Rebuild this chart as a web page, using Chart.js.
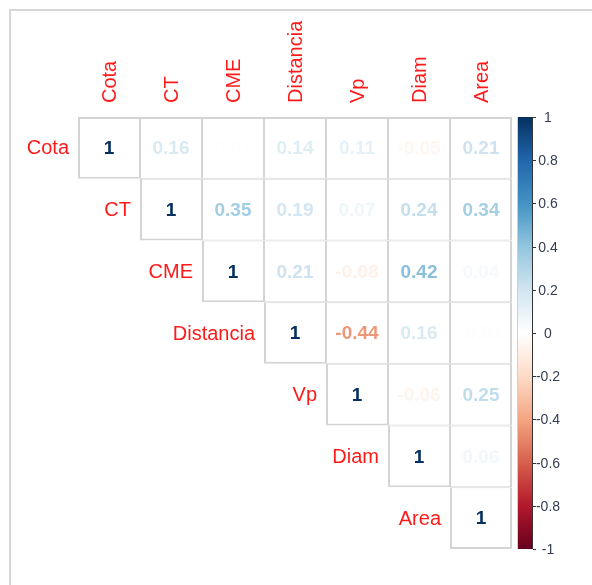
<!DOCTYPE html>
<html>
<head>
<meta charset="utf-8">
<script src="https://cdn.jsdelivr.net/npm/chart.js@4/dist/chart.umd.min.js"></script>
<style>
  html, body { margin: 0; padding: 0; background: #ffffff; }
  #wrap { position: relative; width: 592px; height: 585px; }
</style>
</head>
<body>
<div id="wrap"><canvas id="corr" width="592" height="585"></canvas></div>
<script>
// Variables of the correlation matrix (upper triangle shown)
const variables = ['Cota', 'CT', 'CME', 'Distancia', 'Vp', 'Diam', 'Area'];

// One row of correlation coefficients per variable (null below the diagonal)
const corrCota      = [1, 0.16, 0.01, 0.14, 0.11, -0.05, 0.21];
const corrCT        = [null, 1, 0.35, 0.19, 0.07, 0.24, 0.34];
const corrCME       = [null, null, 1, 0.21, -0.08, 0.42, 0.04];
const corrDistancia = [null, null, null, 1, -0.44, 0.16, -0.01];
const corrVp        = [null, null, null, null, 1, -0.06, 0.25];
const corrDiam      = [null, null, null, null, null, 1, 0.06];
const corrArea      = [null, null, null, null, null, null, 1];

// Colour-key ticks
const colorbarTicks = [1, 0.8, 0.6, 0.4, 0.2, 0, -0.2, -0.4, -0.6, -0.8, -1];

// Diverging red-blue palette stops, from -1 to 1
const paletteStops = ['#67001F', '#B2182B', '#D6604D', '#F4A582', '#FDDBC7', '#FFFFFF',
                      '#D1E5F0', '#92C5DE', '#4393C3', '#2166AC', '#053061'];

const rows = [corrCota, corrCT, corrCME, corrDistancia, corrVp, corrDiam, corrArea];
const n = variables.length;

function hexToRgb(h) {
  const v = parseInt(h.slice(1), 16);
  return [(v >> 16) & 255, (v >> 8) & 255, v & 255];
}
function colorFor(v) {
  const t = (Math.max(-1, Math.min(1, v)) + 1) / 2 * (paletteStops.length - 1);
  const i = Math.min(Math.floor(t), paletteStops.length - 2);
  const f = t - i;
  const a = hexToRgb(paletteStops[i]), b = hexToRgb(paletteStops[i + 1]);
  const c = a.map((x, k) => Math.round(x + (b[k] - x) * f));
  return `rgb(${c[0]},${c[1]},${c[2]})`;
}
function fmt(v) { return v === 1 ? '1' : v.toFixed(2); }

// Each row of the triangle is a dataset of floating bars spanning [row, row+1]
const datasets = rows.map((row, i) => ({
  label: variables[i],
  data: row.map(v => (v === null ? null : [i, i + 1])),
  corr: row,
  backgroundColor: '#ffffff',
  borderColor: '#d4d4d4',
  borderSkipped: false,
  inflateAmount: 0,
  grouped: false,
  barPercentage: 1,
  categoryPercentage: 1,
  borderWidth: ctx => {
    const j = ctx.dataIndex;
    return {
      left: j === i ? 2 : 1,
      top: i === 0 ? 2 : 1,
      right: j === n - 1 ? 2 : 1,
      bottom: j === i ? 2 : 1
    };
  }
}));

const FONT = '"Liberation Sans", Arial, sans-serif';

const corrDecor = {
  id: 'corrDecor',
  beforeDraw(chart) {
    const ctx = chart.ctx;
    ctx.save();
    ctx.fillStyle = '#ffffff';
    ctx.fillRect(0, 0, chart.width, chart.height);
    // outer frame (top and left edges)
    ctx.fillStyle = '#d6d6d6';
    ctx.fillRect(9, 9, chart.width - 9, 2);
    ctx.fillRect(9, 9, 2, chart.height - 9);
    ctx.restore();
  },
  afterDatasetsDraw(chart) {
    const ctx = chart.ctx;
    const xs = chart.scales.x, ys = chart.scales.y, cb = chart.scales.cb;
    const area = chart.chartArea;
    ctx.save();

    // coefficient labels inside cells
    ctx.font = 'bold 19px ' + FONT;
    ctx.textAlign = 'center';
    ctx.textBaseline = 'middle';
    chart.data.datasets.forEach((ds, i) => {
      const meta = chart.getDatasetMeta(i);
      meta.data.forEach((el, j) => {
        const v = ds.corr[j];
        if (v === null) return;
        const p = el.getCenterPoint();
        ctx.fillStyle = colorFor(v);
        ctx.fillText(fmt(v), p.x, p.y + 1);
      });
    });

    // variable names: rotated along the top, beside the diagonal on the left
    ctx.font = '20px ' + FONT;
    ctx.fillStyle = '#ff1a1a';
    variables.forEach((name, k) => {
      const cx = xs.getPixelForValue(k);
      ctx.save();
      ctx.translate(cx, area.top - 14);
      ctx.rotate(-Math.PI / 2);
      ctx.textAlign = 'left';
      ctx.textBaseline = 'middle';
      ctx.fillText(name, 0, 1);
      ctx.restore();

      const cy = (ys.getPixelForValue(k) + ys.getPixelForValue(k + 1)) / 2;
      const half = xs.getPixelForValue(1) - xs.getPixelForValue(0);
      ctx.textAlign = 'right';
      ctx.textBaseline = 'middle';
      ctx.fillText(name, cx - half / 2 - 9, cy + 1);
    });

    // colour key
    const x0 = area.right + 6, w = 15;
    const yTop = cb.getPixelForValue(1), yBot = cb.getPixelForValue(-1);
    const grad = ctx.createLinearGradient(0, yBot, 0, yTop);
    paletteStops.forEach((c, k) => grad.addColorStop(k / (paletteStops.length - 1), c));
    ctx.fillStyle = grad;
    ctx.fillRect(x0, yTop, w, yBot - yTop);
    ctx.strokeStyle = '#d0d0d0';
    ctx.lineWidth = 1;
    ctx.beginPath();
    ctx.moveTo(x0 - 0.5, yTop); ctx.lineTo(x0 - 0.5, yBot);
    ctx.stroke();
    ctx.strokeStyle = '#333333';
    ctx.beginPath();
    ctx.moveTo(x0 + w - 0.5, yTop); ctx.lineTo(x0 + w - 0.5, yBot);
    ctx.stroke();

    ctx.font = '14px ' + FONT;
    ctx.textAlign = 'center';
    ctx.textBaseline = 'middle';
    colorbarTicks.forEach(t => {
      const y = Math.round(cb.getPixelForValue(t)) + 0.5;
      ctx.strokeStyle = '#333333';
      ctx.beginPath();
      ctx.moveTo(x0 + w, y); ctx.lineTo(x0 + w + 3, y);
      ctx.stroke();
      ctx.fillStyle = '#353d50';
      ctx.fillText(String(t), x0 + w + 15, y + 1);
    });
    ctx.restore();
  }
};

new Chart(document.getElementById('corr'), {
  type: 'bar',
  data: { labels: variables, datasets },
  options: {
    responsive: false,
    animation: false,
    layout: { padding: { left: 78, top: 117, right: 80, bottom: 36 } },
    plugins: { legend: { display: false }, tooltip: { enabled: false } },
    scales: {
      x: { type: 'category', display: false, offset: true, grid: { display: false } },
      y: { type: 'linear', display: false, min: 0, max: n, reverse: true },
      cb: { type: 'linear', display: false, min: -1, max: 1, position: 'right' }
    }
  },
  plugins: [corrDecor]
});
</script>
</body>
</html>
